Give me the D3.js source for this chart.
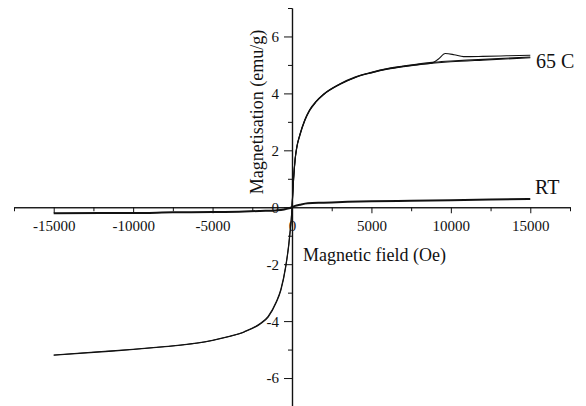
<!DOCTYPE html>
<html>
<head>
<meta charset="utf-8">
<script src="https://cdn.jsdelivr.net/npm/d3@7/dist/d3.min.js"></script>
<style>
  html, body { margin: 0; padding: 0; background: #fff; }
  svg { display: block; }
  svg text { font-family: "Liberation Serif", "Times New Roman", serif !important; fill: #111; }
</style>
</head>
<body>
<svg id="chart" width="586" height="406"></svg>
<script>
// ---- Data ----
// 65 C: virgin curve (0 -> 15000 Oe)
const h65Virgin = [0, 50, 100, 200, 300, 500, 800, 1100, 1500, 2000, 3000, 4000, 5000, 6000, 7000, 8000, 9000, 10000, 12000, 15000];
const m65Virgin = [0, 0.5, 1.0, 1.7, 2.1, 2.55, 3.05, 3.4, 3.7, 3.97, 4.32, 4.57, 4.73, 4.86, 4.95, 5.02, 5.07, 5.11, 5.17, 5.25];
// 65 C: descending branch (15000 -> -15000 Oe)
const h65Down = [15000, 13000, 11000, 10000, 9000, 8000, 7000, 6000, 5000, 4000, 3000, 2000, 1500, 1100, 800, 500, 300, 200, 100, 50, 0, -50, -100, -200, -400, -700, -1000, -1500, -2000, -3000, -4000, -5000, -6000, -8000, -10000, -12000, -15000];
const m65Down = [5.28, 5.22, 5.17, 5.14, 5.1, 5.04, 4.96, 4.87, 4.74, 4.58, 4.33, 3.98, 3.71, 3.42, 3.07, 2.57, 2.12, 1.72, 1.02, 0.52, 0.02, -0.48, -0.78, -1.32, -2.12, -2.92, -3.36, -3.86, -4.1, -4.38, -4.55, -4.68, -4.78, -4.9, -5.0, -5.08, -5.2];
// 65 C: ascending branch (-15000 -> 15000 Oe), with the bump near 9600 Oe
const h65Up = [-15000, -12000, -10000, -8000, -6000, -5000, -4000, -3000, -2000, -1500, -1000, -700, -400, -200, -100, -50, 0, 50, 100, 200, 300, 500, 800, 1100, 1500, 2000, 3000, 4000, 5000, 6000, 7000, 8000, 8800, 9200, 9650, 10200, 10800, 12000, 13500, 15000];
const m65Up = [-5.19, -5.07, -4.99, -4.89, -4.77, -4.67, -4.54, -4.37, -4.08, -3.83, -3.33, -2.88, -2.08, -1.28, -0.72, -0.42, -0.02, 0.48, 0.98, 1.68, 2.08, 2.53, 3.03, 3.38, 3.69, 3.96, 4.31, 4.56, 4.72, 4.85, 4.94, 5.01, 5.06, 5.2, 5.4, 5.36, 5.29, 5.3, 5.32, 5.34];
// RT curve
const hRT = [-15000, -12000, -10000, -7500, -5000, -3000, -2000, -1000, -500, -200, 0, 200, 500, 1000, 2000, 3500, 5000, 7500, 10000, 12500, 15000];
const mRT = [-0.21, -0.2, -0.2, -0.18, -0.17, -0.15, -0.13, -0.11, -0.08, -0.04, 0, 0.05, 0.09, 0.14, 0.16, 0.19, 0.21, 0.23, 0.25, 0.27, 0.29];

// Axis ticks / labels
const xMajorTicks = [-15000, -10000, -5000, 0, 5000, 10000, 15000];
const xMinorTicks = [-17500, -12500, -7500, -2500, 2500, 7500, 12500, 17500];
const yMajorTicks = [-6, -4, -2, 0, 2, 4, 6];
const yMinorTicks = [-7, -5, -3, -1, 1, 3, 5, 7];
const xTitle = "Magnetic field (Oe)";
const yTitle = "Magnetisation (emu/g)";
const seriesLabels = ["65 C", "RT"];

// ---- Scales ----
const svg = d3.select("#chart");
const x = d3.scaleLinear().domain([-17500, 17500]).range([14, 570]);
const y = d3.scaleLinear().domain([-7, 7]).range([406.5, 8]);
const x0 = x(0), y0 = y(0);
const SERIF = '"Liberation Serif", "Times New Roman", serif';

// ---- Axes ----
const xMinor = d3.axisBottom(x).tickValues(xMinorTicks).tickSize(4).tickSizeOuter(0).tickFormat("");
const xMajor = d3.axisBottom(x).tickValues(xMajorTicks).tickSize(6).tickSizeOuter(0).tickFormat(d => String(d));
const yMinor = d3.axisLeft(y).tickValues(yMinorTicks).tickSize(4).tickSizeOuter(0).tickFormat("");
const yMajor = d3.axisLeft(y).tickValues(yMajorTicks).tickSize(8).tickSizeOuter(0).tickFormat(d => String(d));

function style(g) {
  g.attr("font-family", SERIF).style("font-family", SERIF);
  g.selectAll("path.domain").attr("stroke", "#111").attr("stroke-width", 1.2);
  g.selectAll(".tick line").attr("stroke", "#111").attr("stroke-width", 1);
  g.selectAll(".tick text").attr("font-size", 15).style("font-family", SERIF).attr("fill", "#111");
}

const gxm = svg.append("g").attr("transform", `translate(0,${y0})`).call(xMinor); style(gxm);
const gx = svg.append("g").attr("transform", `translate(0,${y0})`).call(xMajor); style(gx);
gx.selectAll(".tick text").attr("y", 13).attr("dy", "0.71em");

const gym = svg.append("g").attr("transform", `translate(${x0},0)`).call(yMinor); style(gym);
const gy = svg.append("g").attr("transform", `translate(${x0},0)`).call(yMajor); style(gy);
gy.selectAll(".tick text").attr("x", -13).attr("dy", "0.33em");

// ---- Curves ----
const line = d3.line().x(d => x(d[0])).y(d => y(d[1])).curve(d3.curveMonotoneX);
function draw(hs, ms, w) {
  svg.append("path")
    .datum(hs.map((h, i) => [h, ms[i]]))
    .attr("d", line)
    .attr("fill", "none")
    .attr("stroke", "#111")
    .attr("stroke-width", w)
    .attr("stroke-linejoin", "round");
}
draw(h65Virgin, m65Virgin, 1.1);
draw(h65Down, m65Down, 1.1);
draw(h65Up, m65Up, 1.1);
draw(hRT, mRT, 2);

// ---- Titles & labels ----
svg.append("text").attr("x", 303).attr("y", 261).attr("font-size", 18).style("font-family", SERIF).text(xTitle);
svg.append("text").attr("transform", "translate(263,112) rotate(-90)").attr("text-anchor", "middle").attr("font-size", 18).style("font-family", SERIF).text(yTitle);
svg.append("text").attr("x", 536).attr("y", 67.5).attr("font-size", 20).style("font-family", SERIF).text(seriesLabels[0]);
svg.append("text").attr("x", 535).attr("y", 194).attr("font-size", 20).style("font-family", SERIF).text(seriesLabels[1]);
</script>
</body>
</html>
